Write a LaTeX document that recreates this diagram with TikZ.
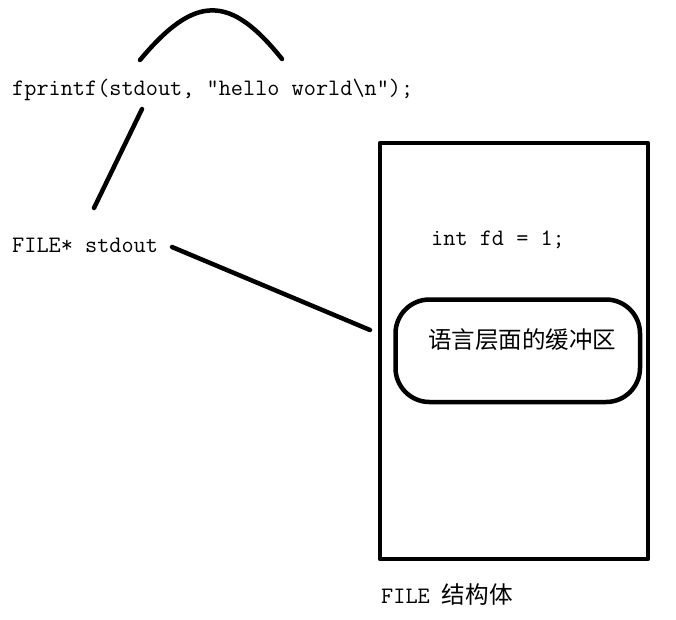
\documentclass[tikz,border=0pt]{standalone}
\usepackage{fontspec}
\usepackage{tikz}
\usepackage{xcolor}
\newfontfamily\cjk{Noto Sans CJK SC}

\tikzset{
  heavy/.style={line width=4.5pt, line cap=round, line join=round},
  codetext/.style={font=\ttfamily\fontsize{23.6}{26}\selectfont, inner sep=0pt, anchor=base west},
  hantext/.style={font=\cjk\fontsize{23.5}{26}\selectfont, inner sep=0pt, anchor=west}
}

\begin{document}
\begin{tikzpicture}[x=1pt,y=-1pt]
\useasboundingbox (0,0) rectangle (676,619);
% the call and its arc
\node[codetext] (call) at (12,95) {fprintf(stdout, "hello world\textbackslash n");};
\coordinate (arcL) at (140,60);
\coordinate (arcR) at (282,59);
\draw[heavy] (arcL) .. controls (195,-6) and (230,-6) .. (arcR);
% the pointer
\node[codetext] (ptr) at (12,252) {FILE* stdout};
\coordinate (callfoot) at (142,109);
\coordinate (ptrtop) at (94,208);
\draw[heavy] (callfoot) -- (ptrtop);
% the FILE struct
\draw[heavy] (380,143) rectangle (648,559);
\coordinate (ptrend) at (172,247);
\coordinate (boxside) at (370,330);
\draw[heavy] (ptrend) -- (boxside);
\node[codetext] (fd) at (431,245) {int fd = 1;};
\draw[heavy, rounded corners=34pt] (395.5,299.5) rectangle (640,402);
\node[hantext] (buf) at (428,340) {语言层面的缓冲区};
\node[codetext] (caption) at (381,603) {FILE {\cjk 结构体}};
\end{tikzpicture}
\end{document}
